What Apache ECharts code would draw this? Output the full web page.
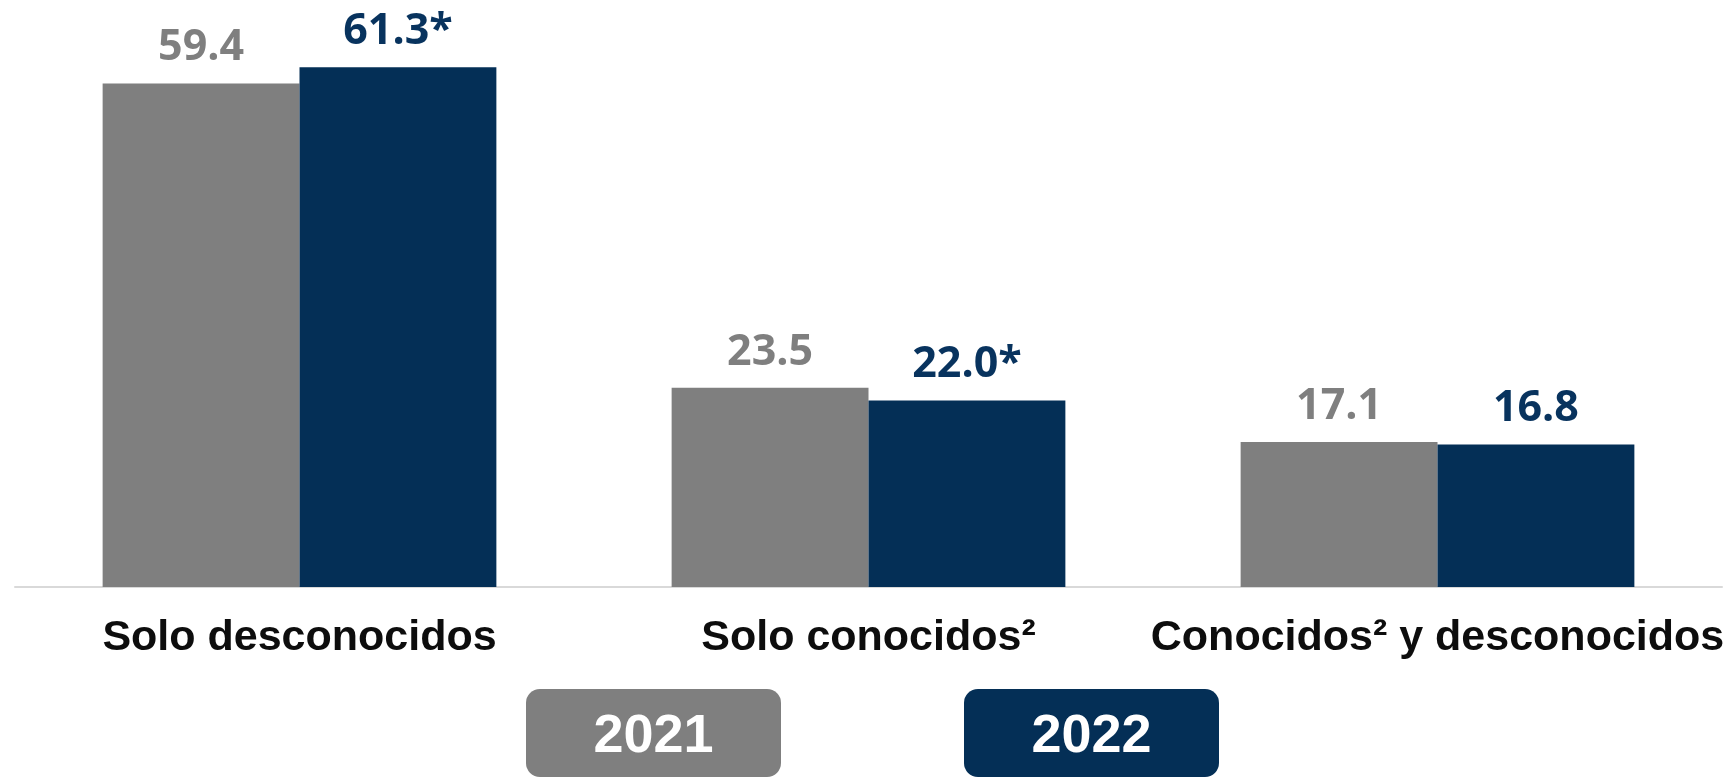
<!DOCTYPE html>
<html>
<head>
<meta charset="utf-8">
<script src="https://cdn.jsdelivr.net/npm/echarts@6/dist/echarts.min.js"></script>
<style>
  html, body { margin: 0; padding: 0; background: #fff; }
  #chart { width: 1733px; height: 777px; }
</style>
</head>
<body>
<div id="chart"></div>
<script>
// data
const categories = ['Solo desconocidos', 'Solo conocidos²', 'Conocidos² y desconocidos'];
const years = ['2021', '2022'];
const values2021 = [59.4, 23.5, 17.1];
const values2022 = [61.3, 22.0, 16.8];
// asterisk = significant change vs 2021
const marks2022 = ['*', '*', ''];

const GRAY = '#7f7f7f';
const NAVY = '#042f56';

const myChart = echarts.init(document.getElementById('chart'));

// legend drawn as rounded coloured boxes with the year centred inside
const legendBox = (color) => ({
  rich: {
    box: {
      color: '#fff',
      backgroundColor: color,
      borderRadius: 14,
      width: 255,
      height: 80,
      lineHeight: 80,
      padding: [8, 0, 0, 0],
      align: 'center',
      fontFamily: '"Liberation Sans Narrow", "Liberation Sans", Arial, sans-serif',
      fontWeight: 'bold',
      fontSize: 54
    }
  }
});

const option = {
  animation: false,
  backgroundColor: '#fff',
  grid: { top: 36, left: 15, right: 11, bottom: 190 },
  legend: {
    left: 521,
    top: 689,
    padding: 0,
    itemWidth: 0,
    itemHeight: 0,
    itemGap: 178,
    icon: 'none',
    selectedMode: false,
    formatter: '{box|{name}}',
    data: [
      { name: years[0], textStyle: legendBox(GRAY) },
      { name: years[1], textStyle: legendBox(NAVY) }
    ]
  },
  xAxis: {
    type: 'category',
    data: categories,
    axisLine: { lineStyle: { color: '#d9d9d9', width: 2 } },
    axisTick: { show: false },
    axisLabel: {
      interval: 0,
      margin: 30,
      color: '#0d0d0d',
      fontFamily: '"Liberation Sans", Arial, sans-serif',
      fontWeight: 'bold',
      fontSize: 43
    }
  },
  yAxis: {
    type: 'value',
    min: 0,
    max: 65,
    show: false,
    splitLine: { show: false }
  },
  series: [
    {
      name: years[0],
      type: 'bar',
      data: values2021,
      barGap: '0%',
      barCategoryGap: '30.8%',
      itemStyle: { color: GRAY },
      label: {
        show: true,
        position: 'top',
        distance: 14,
        color: GRAY,
        fontFamily: '"Open Sans", sans-serif',
        fontWeight: 'bold',
        fontSize: 43,
        formatter: (p) => p.value.toFixed(1)
      }
    },
    {
      name: years[1],
      type: 'bar',
      data: values2022,
      barGap: '0%',
      barCategoryGap: '30.8%',
      itemStyle: { color: NAVY },
      label: {
        show: true,
        position: 'top',
        distance: 14,
        color: '#08335e',
        fontFamily: '"Open Sans", sans-serif',
        fontWeight: 'bold',
        fontSize: 43,
        formatter: (p) => p.value.toFixed(1) + marks2022[p.dataIndex]
      }
    }
  ]
};

myChart.setOption(option);
</script>
</body>
</html>
